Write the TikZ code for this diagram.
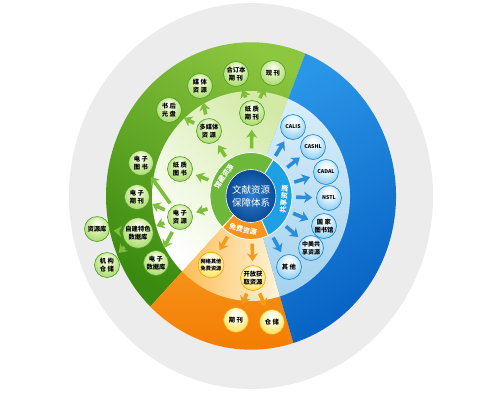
\documentclass[tikz,border=0pt]{standalone}
\usepackage{fontspec}
\setmainfont{Noto Sans CJK SC}
\usepackage{xcolor}
\usepackage{tikz}
\usetikzlibrary{arrows.meta,shapes.geometric,positioning,calc}

\definecolor{haloGray}{HTML}{ECECEC}
\definecolor{gBandTop}{HTML}{8DC63F}
\definecolor{gBandBot}{HTML}{3A8A10}
\definecolor{bBandTop}{HTML}{2A96E8}
\definecolor{bBandBot}{HTML}{0660C2}
\definecolor{oBandTop}{HTML}{F8A52E}
\definecolor{oBandBot}{HTML}{F47A00}
\definecolor{gLightTop}{HTML}{D3EAA6}
\definecolor{bLightTop}{HTML}{D9EEFA}
\definecolor{bLightBot}{HTML}{A3D2EF}
\definecolor{oLightOut}{HTML}{FBBE55}
\definecolor{oLightIn}{HTML}{FFF4DA}
\definecolor{gRing}{HTML}{6DB83A}
\definecolor{bRing}{HTML}{1EA0E5}
\definecolor{oRing}{HTML}{F7941D}
\definecolor{hubIn}{HTML}{2F7FCF}
\definecolor{hubOut}{HTML}{0A4A96}
\definecolor{gBallLite}{HTML}{DDF2B8}
\definecolor{gBallMid}{HTML}{92D04E}
\definecolor{gBallRim}{HTML}{4E9E1E}
\definecolor{bBallLite}{HTML}{E2F4FD}
\definecolor{bBallMid}{HTML}{62BCEB}
\definecolor{bBallRim}{HTML}{1B86CF}
\definecolor{yBallLite}{HTML}{FFFBD2}
\definecolor{yBallMid}{HTML}{FFD31C}
\definecolor{yBallRim}{HTML}{E9A300}
\definecolor{gArrow}{HTML}{7DBF3A}
\definecolor{bArrow}{HTML}{2B8EDB}
\definecolor{oArrow}{HTML}{F39A1F}

\pgfdeclareradialshading{gballsh}{\pgfpoint{0bp}{12bp}}{color(0bp)=(white); color(12bp)=(gBallLite); color(38bp)=(gBallMid); color(50bp)=(gBallRim)}
\pgfdeclareradialshading{bballsh}{\pgfpoint{0bp}{12bp}}{color(0bp)=(white); color(12bp)=(bBallLite); color(38bp)=(bBallMid); color(50bp)=(bBallRim)}
\pgfdeclareradialshading{yballsh}{\pgfpoint{0bp}{12bp}}{color(0bp)=(white); color(12bp)=(yBallLite); color(38bp)=(yBallMid); color(50bp)=(yBallRim)}

\begin{document}
\begin{tikzpicture}[x=1pt, y=-1pt,
    gball/.style={circle, inner sep=0.6pt, minimum size=25pt, draw=gBallRim, line width=0.6pt,
      shading=gballsh, font=\bfseries\fontsize{6.3}{7.6}\selectfont, align=center},
    bball/.style={gball, draw=bBallRim, shading=bballsh, font=\bfseries\fontsize{5.2}{7.2}\selectfont},
    yball/.style={gball, draw=yBallRim, shading=yballsh},
    garrow/.style={-{Stealth[length=8pt,width=11pt,inset=2.5pt]}, line width=3.6pt, draw=gArrow,
      shorten <=4pt, shorten >=4pt},
    barrow/.style={garrow, draw=bArrow},
    oarrow/.style={garrow, draw=oArrow},
    ringlabel/.style={text=white, font=\bfseries\fontsize{7}{7}\selectfont, inner sep=0pt}]
    \useasboundingbox (0,0) rectangle (500,400);
    \fill[white] (0,0) rectangle (500,400);

    \begin{scope}[shift={(251,196)}, y=1.06pt]
        % Gray halo
        \fill[haloGray] (0,0) circle (182);

        % Outer bands
        \shade[top color=gBandTop, bottom color=gBandBot, shading angle=-30]
            (0,0) -- (68:145) arc[start angle=68, end angle=226, radius=145] -- cycle;
        \shade[top color=oBandTop, bottom color=oBandBot]
            (0,0) -- (226:145) arc[start angle=226, end angle=287, radius=145] -- cycle;
        \shade[top color=bBandTop, bottom color=bBandBot, shading angle=30]
            (0,0) -- (287:145) arc[start angle=287, end angle=428, radius=145] -- cycle;

        % Light ring
        \shade[top color=gLightTop, bottom color=white, shading angle=-45]
            (0,0) -- (68:99) arc[start angle=68, end angle=226, radius=99] -- cycle;
        \shade[left color=oLightOut, right color=oLightIn]
            (0,0) -- (226:99) arc[start angle=226, end angle=287, radius=99] -- cycle;
        \shade[top color=bLightTop, bottom color=bLightBot]
            (0,0) -- (287:99) arc[start angle=287, end angle=428, radius=99] -- cycle;

        % Core ring
        \fill[gRing, draw=white, line width=0.8pt]
            (0,0) -- (57:41) arc[start angle=57, end angle=226, radius=41] -- cycle;
        \fill[oRing, draw=white, line width=0.8pt]
            (0,0) -- (226:41) arc[start angle=226, end angle=295, radius=41] -- cycle;
        \fill[bRing, draw=white, line width=0.8pt]
            (0,0) -- (295:41) arc[start angle=295, end angle=417, radius=41] -- cycle;
        \shade[inner color=hubIn, outer color=hubOut, draw=white, line width=0.6pt] (0,0) circle (25);

        \node[ellipse, minimum width=82pt, minimum height=87pt, inner sep=0pt] (ring) at (0,0) {};
        \node[text=white, font=\fontsize{9.5}{13}\selectfont, align=center, inner sep=0pt] (hub) at (0,0) {文献资源\\保障体系};
        \node[ringlabel, rotate=56] (lblgc) at (146:33) {馆藏资源};
        \node[ringlabel, rotate=85] (lblgx) at (-5:33) {共享资源};
        \node[ringlabel, rotate=-14] (lblmf) at (-104:32.5) {免费资源};
    \end{scope}

    % Collection resources
    \node[gball] (zzqk) at (252,113) {纸 质\\期 刊};
    \node[gball] (hdbqk) at (236,74) {合订本\\期 刊};
    \node[gball] (xk) at (273,73) {现 刊};
    \node[gball] (dmtzy) at (209,131) {多媒体\\资 源};
    \node[gball] (mtzy) at (200,86) {媒 体\\资 源};
    \node[gball] (shgp) at (169,110) {书 后\\光 盘};
    \node[gball] (zzts) at (180,169) {纸 质\\图 书};
    \node[gball] (dzts) at (141,163) {电 子\\图 书};
    \node[gball] (dzqk) at (137,197) {电 子\\期 刊};
    \node[gball] (dzzy) at (180,217) {电 子\\资 源};
    \node[gball] (zjsjk) at (138,233) {自建特色\\数据库};
    \node[gball] (zyk) at (97,229) {资源库};
    \node[gball] (jgcc) at (107,265) {机 构\\仓 储};
    \node[gball] (dzsjk) at (156,263) {电 子\\数据库};

    % Free resources
    \node[yball, font=\bfseries\fontsize{5.2}{7.2}\selectfont] (wlmf) at (211,265) {网络其他\\免费资源};
    \node[yball] (kfhq) at (253,278) {开放获\\取资源};
    \node[yball] (oaqk) at (236,320) {期 刊};
    \node[yball] (oacc) at (272,322) {仓 储};

    % Shared resources
    \node[bball] (calis) at (293,127) {CALIS};
    \node[bball] (cashl) at (313,147) {CASHL};
    \node[bball] (cadal) at (326,172) {CADAL};
    \node[bball] (nstl) at (329,198) {NSTL};
    \node[bball, font=\bfseries\fontsize{6.3}{7.6}\selectfont] (gjtsg) at (324,226) {国 家\\图书馆};
    \node[bball, font=\bfseries\fontsize{6}{7.4}\selectfont] (zmgx) at (311,248) {中美共\\享资源};
    \node[bball, font=\bfseries\fontsize{6.3}{7.6}\selectfont] (qt) at (289,267) {其 他};

    % Arrows
    \draw[garrow] (ring) -- (zzqk);
    \draw[garrow] (ring) -- (dmtzy);
    \draw[garrow] (ring) -- (zzts);
    \draw[garrow] (ring) -- (dzzy);
    \draw[garrow] (zzqk) -- (hdbqk);
    \draw[garrow] (zzqk) -- (xk);
    \draw[garrow] (dmtzy) -- (mtzy);
    \draw[garrow] (dmtzy) -- (shgp);
    \draw[garrow] (dzzy) -- (dzts);
    \draw[garrow] (dzzy) -- (dzqk);
    \draw[garrow] (dzzy) -- (zjsjk);
    \draw[garrow] (dzzy) -- (dzsjk);
    \draw[garrow] (zjsjk) -- (zyk);
    \draw[garrow] (zjsjk) -- (jgcc);

    \draw[oarrow] (ring) -- (wlmf);
    \draw[oarrow] (ring) -- (kfhq);
    \draw[oarrow] (kfhq) -- (oaqk);
    \draw[oarrow] (kfhq) -- (oacc);

    \foreach \t in {calis,cashl,cadal,nstl,gjtsg,zmgx,qt}
        \draw[barrow] (ring) -- (\t);
\end{tikzpicture}
\end{document}
